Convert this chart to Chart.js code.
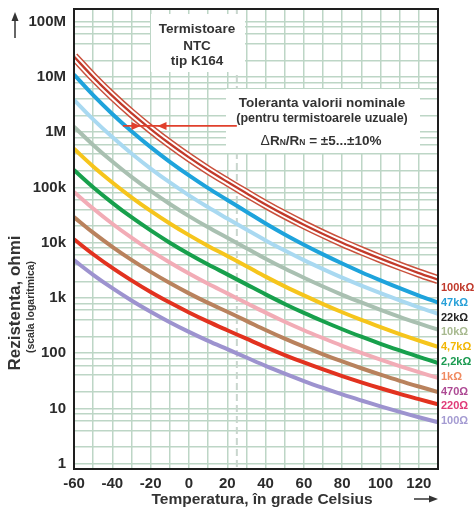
<!DOCTYPE html>
<html><head><meta charset="utf-8">
<script src="https://cdn.jsdelivr.net/npm/chart.js@4/dist/chart.umd.min.js"></script>
<style>html,body{margin:0;padding:0;background:#fff;}canvas{display:block}</style>
</head><body>
<canvas id="c" width="475" height="513"></canvas>
<script>
// ---------- DATA ----------
const temperatures = [-60,-50,-40,-30,-20,-10,0,10,20,30,40,50,60,70,80,90,100,110,120,130];
const r100k = [23.4e6,9.95e6,4.54e6,2.21e6,1.14e6,617e3,350e3,206.5e3,126.3e3,78.4e3,49.3e3,31.9e3,21.2e3,14.4e3,10.0e3,7.12e3,5.14e3,3.78e3,2.82e3,2.14e3];
const r47k  = [11.05e6,4.69e6,2.14e6,1.04e6,536e3,290e3,165e3,97.1e3,59.4e3,36.4e3,22.3e3,14.1e3,9.20e3,6.14e3,4.19e3,2.92e3,2.08e3,1.50e3,1.10e3,824];
const r22k  = [3.86e6,1.71e6,816e3,413e3,220e3,123e3,72.0e3,43.7e3,27.4e3,17.3e3,11.0e3,7.22e3,4.84e3,3.33e3,2.33e3,1.67e3,1.22e3,901,677,517];
const r10k  = [1.26e6,589e3,294e3,155e3,86.3e3,50.2e3,30.3e3,19.0e3,12.3e3,7.95e3,5.13e3,3.40e3,2.32e3,1.61e3,1.14e3,827,609,455,346,266];
const r4k7  = [501e3,240e3,123e3,66.4e3,37.7e3,22.3e3,13.7e3,8.74e3,5.74e3,3.75e3,2.43e3,1.62e3,1.11e3,774,551,400,296,222,169,130];
const r2k2  = [207e3,101e3,52.7e3,28.9e3,16.7e3,10.0e3,6.24e3,4.02e3,2.67e3,1.76e3,1.16e3,778,536,378,271,199,148,112,85.5,66.4];
const r1k   = [83.0e3,41.5e3,22.0e3,12.3e3,7.17e3,4.37e3,2.76e3,1.80e3,1.21e3,810,542,371,260,187,136,101,76.3,58.4,45.3,35.6];
const r470  = [29.1e3,15.2e3,8.42e3,4.88e3,2.96e3,1.86e3,1.21e3,813,561,385,262,183,131,95.4,70.7,53.3,40.8,31.6,24.9,19.8];
const r220  = [11.5e3,6.18e3,3.50e3,2.08e3,1.28e3,823,546,372,260,183,129,92.5,67.8,50.7,38.5,29.7,23.2,18.3,14.7,11.9];
const r100  = [4.82e3,2.62e3,1.50e3,900,562,364,243,167,118,83.4,58.9,42.6,31.3,23.5,17.9,13.9,10.9,8.63,6.93,5.63];
const seriesNames = ['100kΩ','47kΩ','22kΩ','10kΩ','4,7kΩ','2,2kΩ','1kΩ','470Ω','220Ω','100Ω'];
const xTickLabels = [-60,-40,-20,0,20,40,60,80,100,120];
const yTickValues = [1,10,100,1e3,1e4,1e5,1e6,1e7,1e8];
const yTickLabels = ['1','10','100','1k','10k','100k','1M','10M','100M'];
const yGridMultipliers = [1,2,4,6,8];
const toleranceArrowValue = 1.3e6;   // level of the red arrow
const referenceTemp = 25;            // dashed vertical line

// ---------- STYLE ----------
const FONT = '"Liberation Sans", Arial, sans-serif';
const textColor = '#2b2b2b';
const gridColor = '#bdd6c6';
const curveColors = ['#c0392b','#1ea3dc','#a9d9f1','#a9c0b1','#f6c51c','#17a04c','#f2acb6','#b9825d','#e2321f','#9d93cf'];
const labelColors = ['#c0392b','#27a0d8','#222222','#a7b98f','#f2b705','#1a9a50','#f08a60','#ad4a94','#e03a78','#a49bd2'];
const Y_MIN = 0.8, Y_MAX = 1.7e8;

const allSeries = [r100k,r47k,r22k,r10k,r4k7,r2k2,r1k,r470,r220,r100];
const toPts = arr => temperatures.map((t,i)=>({x:t,y:arr[i]}));
const common = {pointRadius:0, tension:0.35, fill:false, borderJoinStyle:'round'};
const datasets = [
  Object.assign({label:seriesNames[0], data:toPts(r100k), borderColor:'#c23a2a', borderWidth:2.3, order:0}, common),
  Object.assign({label:'gap', data:toPts(r100k), borderColor:'#ffffff', borderWidth:6.2, order:1}, common),
  Object.assign({label:'tol', data:toPts(r100k), borderColor:'#c9503c', borderWidth:9.2, order:2}, common)
];
for (let i=1;i<allSeries.length;i++){
  datasets.push(Object.assign({label:seriesNames[i], data:toPts(allSeries[i]), borderColor:curveColors[i], borderWidth:4, order:2+i}, common));
}

function drawParts(ctx, parts, cx, y){
  let total=0;
  parts.forEach(p=>{ctx.font=p.f; p.w=ctx.measureText(p.t).width; total+=p.w;});
  let xx=cx-total/2;
  ctx.textAlign='left';
  parts.forEach(p=>{ctx.font=p.f; ctx.fillText(p.t, xx, y); xx+=p.w;});
}
function arrowHead(ctx, tipX, tipY, dir, len, half){
  ctx.beginPath();
  if (dir==='right'){ctx.moveTo(tipX,tipY);ctx.lineTo(tipX-len,tipY-half);ctx.lineTo(tipX-len,tipY+half);}
  else if (dir==='left'){ctx.moveTo(tipX,tipY);ctx.lineTo(tipX+len,tipY-half);ctx.lineTo(tipX+len,tipY+half);}
  else if (dir==='up'){ctx.moveTo(tipX,tipY);ctx.lineTo(tipX-half,tipY+len);ctx.lineTo(tipX+half,tipY+len);}
  ctx.closePath(); ctx.fill();
}

const annot = {
  id:'annot',
  beforeDatasetsDraw(chart){
    const {ctx, chartArea:a, scales:{x}} = chart;
    ctx.save();
    const px = x.getPixelForValue(referenceTemp);
    ctx.strokeStyle='#c9d6ce'; ctx.lineWidth=2; ctx.setLineDash([7,4]);
    ctx.beginPath(); ctx.moveTo(px,a.top); ctx.lineTo(px,a.bottom); ctx.stroke();
    ctx.setLineDash([]);
    ctx.fillStyle='#ffffff';
    ctx.fillRect(151,14,94,58);
    ctx.fillRect(226,89,194,64);
    ctx.restore();
  },
  afterDatasetsDraw(chart){
    const {ctx, chartArea:a, scales:{x,y}} = chart;
    ctx.save();
    // tolerance arrow
    const ay = y.getPixelForValue(toleranceArrowValue);
    ctx.strokeStyle='#e0402c'; ctx.fillStyle='#e0402c'; ctx.lineWidth=1.6;
    ctx.beginPath(); ctx.moveTo(x.getPixelForValue(-34.5),ay); ctx.lineTo(x.getPixelForValue(25),ay); ctx.stroke();
    arrowHead(ctx, x.getPixelForValue(-25.3), ay, 'right', 9, 4);
    arrowHead(ctx, x.getPixelForValue(-16.4), ay, 'left', 9, 4);
    // frame
    ctx.strokeStyle='#1e1e1e'; ctx.lineWidth=2;
    ctx.strokeRect(a.left, a.top, a.right-a.left, a.bottom-a.top);
    // texts in plot
    ctx.fillStyle='#333333'; ctx.textAlign='center'; ctx.textBaseline='alphabetic';
    ctx.font='bold 13.5px '+FONT;
    ctx.fillText('Termistoare',197,33);
    ctx.fillText('NTC',197,49.5);
    ctx.fillText('tip K164',197,65);
    ctx.font='bold 13.5px '+FONT;
    ctx.fillText('Toleranta valorii nominale',322,106.5);
    ctx.font='bold 12.5px '+FONT;
    ctx.fillText('(pentru termistoarele uzuale)',322,121.5);
    const B='bold 13.5px '+FONT, S='bold 8.5px '+FONT;
    drawParts(ctx,[{t:'Δ',f:'14px '+FONT},{t:'R',f:B},{t:'N',f:S},{t:'/R',f:B},{t:'N',f:S},{t:' = ±5...±10%',f:B}],321,145);
    // right labels
    ctx.textAlign='left'; ctx.textBaseline='middle'; ctx.font='bold 11px '+FONT;
    seriesNames.forEach((n,i)=>{ctx.fillStyle=labelColors[i]; ctx.fillText(n,441,288+i*14.8);});
    // axis titles
    ctx.fillStyle='#333333';
    ctx.save(); ctx.translate(15,303); ctx.rotate(-Math.PI/2);
    ctx.textAlign='center'; ctx.textBaseline='middle'; ctx.font='bold 17px '+FONT;
    ctx.fillText('Rezistenta, ohmi',0,0); ctx.restore();
    ctx.save(); ctx.translate(31,307); ctx.rotate(-Math.PI/2);
    ctx.textAlign='center'; ctx.textBaseline='middle'; ctx.font='bold 10.5px '+FONT;
    ctx.fillText('(scala logaritmica)',0,0); ctx.restore();
    ctx.textAlign='center'; ctx.textBaseline='middle'; ctx.font='bold 15.5px '+FONT;
    ctx.fillText('Temperatura, în grade Celsius',262,500);
    // axis arrows
    ctx.strokeStyle='#333333'; ctx.fillStyle='#333333'; ctx.lineWidth=1.5;
    ctx.beginPath(); ctx.moveTo(414,499); ctx.lineTo(430,499); ctx.stroke();
    arrowHead(ctx,438,499,'right',9,3.5);
    ctx.beginPath(); ctx.moveTo(15,38); ctx.lineTo(15,20); ctx.stroke();
    arrowHead(ctx,15,12,'up',9,3.5);
    ctx.restore();
  }
};

new Chart(document.getElementById('c'), {
  type:'line',
  data:{datasets},
  plugins:[annot],
  options:{
    responsive:false, animation:false, devicePixelRatio:1,
    layout:{padding:{left:0,right:37,top:9,bottom:0}},
    plugins:{legend:{display:false}, tooltip:{enabled:false}},
    scales:{
      x:{type:'linear', min:-60, max:130,
        afterFit(s){ s.height=44; s.paddingLeft=0; s.paddingRight=0; },
        ticks:{stepSize:10, autoSkip:false, maxRotation:0, padding:6, color:textColor,
          font:{family:FONT,size:15,weight:'bold'},
          callback:v=> xTickLabels.includes(v) ? String(v) : ''},
        grid:{color:gridColor, lineWidth:1.5, drawTicks:false},
        border:{display:false}},
      y:{type:'logarithmic', min:Y_MIN, max:Y_MAX,
        afterBuildTicks(s){
          const t=[];
          for(let e=0;e<=8;e++) yGridMultipliers.forEach(m=>{const v=m*Math.pow(10,e); if(v>=Y_MIN&&v<=Y_MAX) t.push({value:v});});
          s.ticks=t;
        },
        afterFit(s){ s.width=74; s.paddingTop=0; s.paddingBottom=0; },
        ticks:{autoSkip:false, padding:8, color:textColor, font:{family:FONT,size:15,weight:'bold'},
          callback:v=>{const i=yTickValues.findIndex(t=>Math.abs(t-v)<=t*1e-9); return i>=0?yTickLabels[i]:'';}},
        grid:{color:gridColor, lineWidth:1.5, drawTicks:false},
        border:{display:false}}
    }
  }
});
</script>
</body></html>
